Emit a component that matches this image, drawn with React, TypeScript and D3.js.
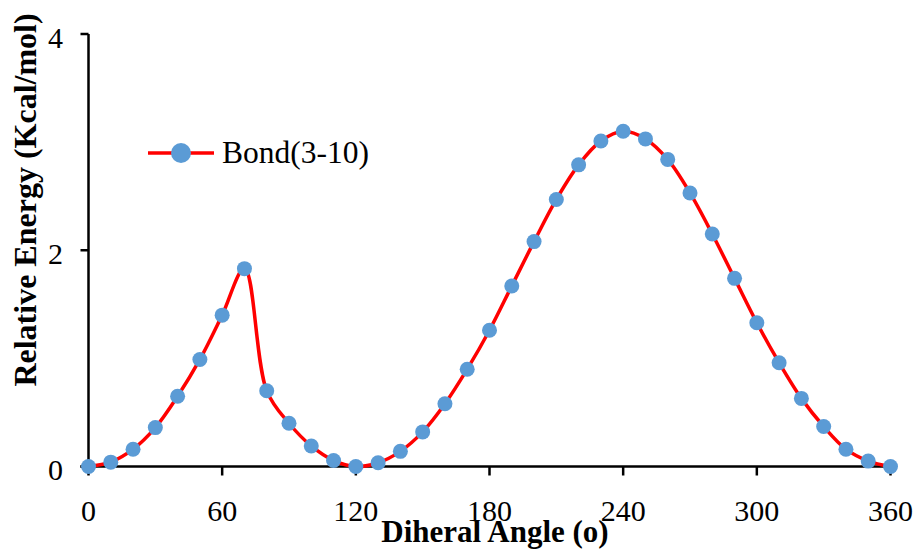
import React, { useEffect, useRef } from 'react';
import * as d3 from 'd3';

// dihedral scan, energies
const angles = [0, 10, 20, 30, 40, 50, 60, 70, 80, 90, 100, 110, 120, 130, 140, 150, 160, 170, 180,
  190, 200, 210, 220, 230, 240, 250, 260, 270, 280, 290, 300, 310, 320, 330, 340, 350, 360];
const energies = [0, 0.04, 0.16, 0.36, 0.65, 0.99, 1.4, 1.83, 0.7, 0.4, 0.19, 0.055, 0, 0.035, 0.14,
  0.32, 0.58, 0.9, 1.26, 1.67, 2.08, 2.47, 2.79, 3.01, 3.1, 3.03, 2.84, 2.53, 2.15, 1.74, 1.33,
  0.96, 0.63, 0.37, 0.16, 0.05, 0.0];
const xTicks = [0, 60, 120, 180, 240, 300, 360];
const yTicks = [0, 2, 4];
const seriesName = 'Bond(3-10)';

const W = 917;
const H = 551;

export default function App() {
  const ref = useRef<SVGSVGElement>(null);

  useEffect(() => {
    const svg = d3.select(ref.current);
    svg.selectAll('*').remove();
    const font = '"Liberation Serif", "Times New Roman", serif';

    const x = d3.scaleLinear().domain([0, 360]).range([88.5, 890.5]);
    const y = d3.scaleLinear().domain([0, 4]).range([466.5, 34]);

    svg.append('rect').attr('width', W).attr('height', H).attr('fill', 'white');

    // axes
    const axes = svg.append('g').attr('stroke', '#000').attr('stroke-width', 2.5);
    axes.append('line').attr('x1', x(0)).attr('x2', x(0)).attr('y1', y(4)).attr('y2', y(0) + 1);
    axes.append('line').attr('x1', x(0) - 8).attr('x2', x(360) + 1).attr('y1', y(0)).attr('y2', y(0));
    yTicks.forEach((t) => {
      axes.append('line').attr('x1', x(0) - 8).attr('x2', x(0)).attr('y1', y(t)).attr('y2', y(t));
    });
    xTicks.forEach((t) => {
      axes.append('line').attr('x1', x(t)).attr('x2', x(t)).attr('y1', y(0)).attr('y2', y(0) + 9);
    });

    svg.append('g').selectAll('text').data(xTicks).join('text')
      .attr('x', (d) => x(d)).attr('y', 521)
      .attr('text-anchor', 'middle')
      .style('font-family', font).style('font-size', '30px')
      .text((d) => d);

    svg.append('g').selectAll('text').data(yTicks).join('text')
      .attr('x', 63).attr('y', (d) => y(d) + 13.5)
      .attr('text-anchor', 'end')
      .style('font-family', font).style('font-size', '30px')
      .text((d) => d);

    // titles (x title sits over the tick labels, as in the original)
    svg.append('text')
      .attr('x', 495).attr('y', 541.5)
      .attr('text-anchor', 'middle')
      .style('font-family', font).style('font-size', '31px').style('font-weight', 'bold')
      .text('Diheral Angle (o)');
    svg.append('text')
      .attr('transform', 'translate(36,200) rotate(-90)')
      .attr('text-anchor', 'middle')
      .style('font-family', font).style('font-size', '32px').style('font-weight', 'bold')
      .text('Relative Energy (Kcal/mol)');

    // series
    const pts = angles.map((a, i) => [a, energies[i]] as [number, number]);
    const line = d3.line<[number, number]>()
      .x((d) => x(d[0]))
      .y((d) => y(d[1]))
      .curve(d3.curveCatmullRom.alpha(0.5));
    svg.append('path').datum(pts)
      .attr('d', line)
      .attr('fill', 'none')
      .attr('stroke', '#FF0000')
      .attr('stroke-width', 3.5)
      .attr('stroke-linejoin', 'round');
    svg.append('g').selectAll('circle').data(pts).join('circle')
      .attr('cx', (d) => x(d[0])).attr('cy', (d) => y(d[1]))
      .attr('r', 7.5)
      .attr('fill', '#5B9BD5');

    // legend
    const lg = svg.append('g');
    lg.append('line').attr('x1', 148).attr('x2', 214).attr('y1', 153).attr('y2', 153)
      .attr('stroke', '#FF0000').attr('stroke-width', 3.5);
    lg.append('circle').attr('cx', 181).attr('cy', 153).attr('r', 10).attr('fill', '#5B9BD5');
    lg.append('text').attr('x', 222).attr('y', 163)
      .style('font-family', font).style('font-size', '31.5px')
      .text(seriesName);
  }, []);

  return (
    <svg
      ref={ref}
      width={W}
      height={H}
      style={{ position: 'absolute', left: 0, top: 0, display: 'block' }}
    />
  );
}
